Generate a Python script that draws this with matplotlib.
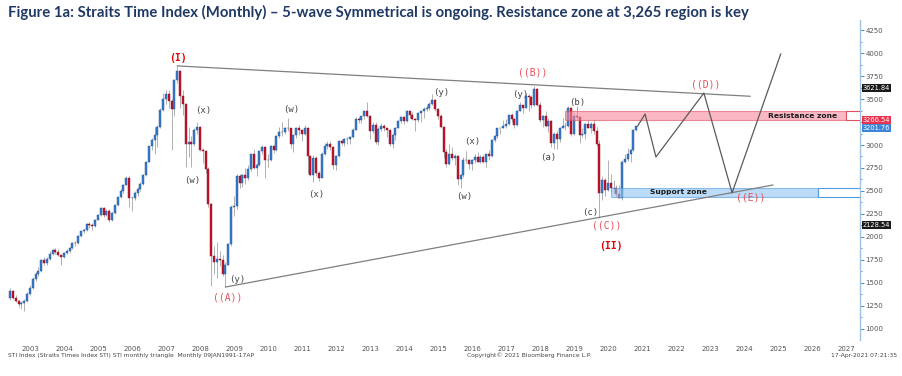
import matplotlib
matplotlib.use("Agg")
import matplotlib.pyplot as plt
from matplotlib.patches import Rectangle
from matplotlib.transforms import blended_transform_factory

# STI monthly candles, Nov 2002 .. Apr 2021 (open = previous close)
start_year, start_month = 2002, 11
first_open = 1340
close = [1410, 1341,
         1305, 1275, 1280, 1300, 1380, 1440, 1540, 1600, 1630, 1750, 1720, 1765,
         1820, 1860, 1840, 1800, 1780, 1830, 1850, 1880, 1940, 1930, 2010, 2066,
         2080, 2140, 2130, 2120, 2190, 2240, 2310, 2240, 2280, 2180, 2260, 2347,
         2430, 2500, 2570, 2640, 2420, 2420, 2480, 2520, 2580, 2670, 2820, 2986,
         3050, 3110, 3200, 3380, 3500, 3550, 3480, 3390, 3707, 3805, 3530, 3446,
         3010, 3030, 3010, 3160, 3200, 2950, 2930, 2740, 2360, 1790, 1730, 1762,
         1750, 1600, 1700, 1920, 2330, 2333, 2660, 2590, 2670, 2640, 2740, 2898,
         2750, 2780, 2930, 2980, 2840, 2840, 2990, 2950, 3100, 3140, 3140, 3190,
         3180, 3010, 3105, 3180, 3160, 3120, 3190, 2880, 2676, 2856, 2700, 2646,
         2906, 2990, 3010, 2980, 2780, 2880, 3040, 3020, 3060, 3070, 3090, 3167,
         3280, 3270, 3310, 3370, 3310, 3150, 3220, 3030, 3170, 3210, 3180, 3167,
         3010, 3110, 3190, 3260, 3300, 3260, 3370, 3330, 3280, 3270, 3350, 3365,
         3390, 3400, 3450, 3490, 3390, 3320, 3200, 2920, 2790, 2900, 2860, 2883,
         2630, 2670, 2840, 2840, 2790, 2840, 2870, 2820, 2870, 2810, 2900, 2881,
         3050, 3100, 3180, 3180, 3210, 3230, 3330, 3280, 3220, 3370, 3430, 3403,
         3530, 3520, 3430, 3610, 3430, 3270, 3320, 3210, 3260, 3020, 3120, 3069,
         3190, 3210, 3210, 3400, 3120, 3320, 3300, 3110, 3120, 3230, 3190, 3223,
         3150, 3010, 2480, 2620, 2510, 2590, 2530, 2530, 2470, 2420, 2810, 2844,
         2900, 2950, 3166, 3202]
high = [1440, 1420,
        1365, 1320, 1300, 1330, 1400, 1480, 1560, 1620, 1670, 1760, 1780, 1780,
        1850, 1870, 1880, 1870, 1810, 1840, 1870, 1890, 1950, 1960, 2020, 2070,
        2100, 2150, 2160, 2150, 2200, 2250, 2330, 2330, 2300, 2300, 2270, 2350,
        2440, 2520, 2580, 2660, 2660, 2450, 2500, 2540, 2600, 2680, 2830, 2990,
        3080, 3200, 3220, 3400, 3560, 3600, 3600, 3500, 3720, 3860, 3820, 3600,
        3460, 3200, 3100, 3180, 3250, 3210, 2970, 2950, 2760, 2370, 1900, 1950,
        1850, 1800, 1730, 1940, 2350, 2450, 2680, 2680, 2690, 2750, 2780, 2900,
        2960, 2800, 2940, 3000, 2990, 2900, 3000, 3000, 3110, 3200, 3250, 3200,
        3290, 3180, 3110, 3200, 3220, 3170, 3220, 3200, 2890, 2890, 2880, 2720,
        2920, 3020, 3040, 3040, 2990, 2890, 3050, 3070, 3080, 3090, 3100, 3180,
        3300, 3300, 3320, 3380, 3465, 3330, 3250, 3250, 3200, 3240, 3230, 3190,
        3170, 3120, 3200, 3270, 3310, 3310, 3380, 3370, 3360, 3290, 3360, 3370,
        3410, 3440, 3470, 3550, 3500, 3400, 3340, 3210, 2960, 3010, 2980, 2900,
        2890, 2680, 2870, 2930, 2850, 2850, 2900, 2920, 2890, 2890, 2900, 2950,
        3060, 3110, 3190, 3190, 3270, 3280, 3340, 3350, 3290, 3380, 3470, 3440,
        3560, 3550, 3540, 3640, 3620, 3470, 3330, 3370, 3290, 3270, 3140, 3150,
        3200, 3290, 3250, 3420, 3410, 3350, 3420, 3310, 3180, 3240, 3270, 3250,
        3280, 3200, 3050, 2660, 2640, 2840, 2680, 2620, 2560, 2560, 2840, 2900,
        2970, 2960, 3170, 3210]
low = [1320, 1330,
       1290, 1240, 1215, 1190, 1290, 1370, 1430, 1520, 1580, 1620, 1700, 1700,
       1750, 1800, 1810, 1790, 1700, 1770, 1810, 1830, 1870, 1900, 1920, 2000,
       2040, 2070, 2100, 2080, 2110, 2180, 2230, 2220, 2230, 2160, 2170, 2250,
       2340, 2420, 2480, 2560, 2330, 2280, 2400, 2450, 2500, 2570, 2660, 2810,
       2950, 2900, 2980, 3190, 3370, 3450, 3400, 2950, 3320, 3670, 3400, 3330,
       2760, 2870, 2760, 2990, 3120, 2930, 2800, 2700, 2330, 1470, 1600, 1550,
       1680, 1580, 1456, 1690, 1900, 2230, 2300, 2530, 2540, 2580, 2620, 2720,
       2740, 2660, 2770, 2900, 2640, 2760, 2830, 2910, 2940, 3080, 3100, 3120,
       3150, 2970, 2920, 3080, 3110, 3040, 3110, 2700, 2660, 2600, 2660, 2610,
       2640, 2890, 2960, 2950, 2740, 2730, 2870, 3000, 2990, 3010, 3010, 3080,
       3160, 3240, 3240, 3280, 3300, 3060, 3130, 3010, 3000, 3150, 3150, 3090,
       2990, 2970, 3050, 3180, 3240, 3230, 3250, 3290, 3270, 3150, 3250, 3250,
       3290, 3370, 3380, 3440, 3370, 3280, 3180, 2860, 2760, 2780, 2840, 2780,
       2560, 2530, 2650, 2800, 2740, 2730, 2800, 2810, 2800, 2800, 2760, 2840,
       2870, 3030, 3080, 3120, 3180, 3190, 3220, 3250, 3190, 3210, 3370, 3350,
       3400, 3370, 3400, 3420, 3420, 3250, 3200, 3200, 3140, 2980, 2960, 2960,
       3030, 3180, 3160, 3200, 3100, 3110, 3280, 3020, 3090, 3070, 3190, 3130,
       3120, 2990, 2208, 2400, 2450, 2500, 2490, 2480, 2440, 2420, 2400, 2800,
       2830, 2820, 2930, 3150]

# triangle and projected path (year, index level)
upper_t, upper_v = [2007.79, 2024.64], [3860, 3530]
lower_t, lower_v = [2009.21, 2025.31], [1456, 2565]
path_t = [2021.33, 2021.55, 2021.87, 2023.28, 2024.11, 2025.54]
path_v = [3205, 3337, 2870, 3565, 2480, 3989]

resistance = (3266.54, 3370)
support = (2440, 2535)

wave_labels = [
    ("(I)", 2007.81, 3946, "major"), ("(x)", 2008.55, 3370, "minor"),
    ("(w)", 2008.22, 2609, "minor"), ("(y)", 2009.55, 1533, "minor"),
    ("((A))", 2009.28, 1337, "inter"), ("(w)", 2011.14, 3391, "minor"),
    ("(x)", 2011.87, 2467, "minor"), ("(y)", 2015.55, 3576, "minor"),
    ("(x)", 2016.46, 3043, "minor"), ("(w)", 2016.22, 2435, "minor"),
    ("(y)", 2017.87, 3554, "minor"), ("((B))", 2018.25, 3783, "inter"),
    ("(b)", 2019.55, 3457, "minor"), ("(a)", 2018.69, 2859, "minor"),
    ("(c)", 2019.93, 2261, "minor"), ("((C))", 2020.43, 2120, "inter"),
    ("(II)", 2020.55, 1902, "major"), ("((D))", 2023.34, 3663, "inter"),
    ("((E))", 2024.67, 2424, "inter"),
]

# right-edge price tags: (label, level where the tag sits, colour)
price_tags = [("3621.84", 3621.84, "#1a1a1a"), ("3201.76", 3186, "#3d85d8"),
              ("3266.54", 3266.54, "#e8344e"), ("2128.54", 2128.54, "#1a1a1a")]

y_ticks = list(range(1000, 4251, 250))
years = list(range(2003, 2028))

fig = plt.figure(figsize=(9.03, 3.76), dpi=100)
ax = fig.add_axes([0, 36 / 376, 860 / 903, 320 / 376])
ax.set_xlim(2002.5776, 2027.872)
ax.set_ylim(880, 4359)

# candles
opens = [first_open] + close[:-1]
t = []
for i in range(len(close)):
    m = start_month - 1 + i
    t.append(start_year + m // 12 + (m % 12 + 0.5) / 12)
ax.vlines(t, low, high, color="#b0b0b0", lw=0.7, zorder=2)
for ti, o, c in zip(t, opens, close):
    up = c >= o
    ax.bar(ti, abs(c - o), bottom=min(o, c), width=0.058,
           color="#3b7dd0" if up else "#c8142f",
           edgecolor="#1e4f8c" if up else "#7d0c1e", lw=0.3, zorder=3)

# zones
def zone(lo, hi, x0, x1, fc, ec, text, tx):
    ax.add_patch(Rectangle((x0, lo), x1 - x0, hi - lo, facecolor=fc,
                           edgecolor=ec, lw=0.8, alpha=0.6, zorder=4))
    ax.add_patch(Rectangle((x1, lo), 2027.87 - x1, hi - lo, facecolor="white",
                           edgecolor=ec, lw=0.8, zorder=4))
    ax.text(tx, (lo + hi) / 2, text, fontsize=5.4, fontweight="bold",
            color="#1a1a1a", ha="center", va="center", zorder=6)

zone(*resistance, 2019.20, 2027.46, "#f58a9b", "#e0505f", "Resistance zone", 2026.19)
zone(*support, 2020.55, 2026.64, "#8ec4f2", "#4f9be0", "Support zone", 2022.52)

ax.plot(upper_t, upper_v, color="#7f7f7f", lw=0.9, zorder=5)
ax.plot(lower_t, lower_v, color="#7f7f7f", lw=0.9, zorder=5)
ax.plot(path_t, path_v, color="#5a5a5a", lw=0.9, zorder=5)

styles = {"minor": dict(color="#444444", fontsize=6.5),
          "inter": dict(color="#e8505b", fontsize=7),
          "major": dict(color="#e00000", fontsize=7, fontweight="bold")}
for txt, x, y, kind in wave_labels:
    ax.text(x, y, txt, ha="center", va="center", family="DejaVu Sans Mono",
            zorder=6, **styles[kind])

# right axis (3250 label sits under the price tags)
for s in ["left", "top", "bottom"]:
    ax.spines[s].set_visible(False)
ax.spines["right"].set_color("#9cc3e6")
ax.spines["right"].set_linewidth(1.0)
ax.yaxis.tick_right()
ax.set_yticks(y_ticks)
ax.set_yticklabels(["" if v == 3250 else str(v) for v in y_ticks])
ax.set_yticks(range(1125, 4251, 250), minor=True)
ax.tick_params(axis="y", which="major", colors="#3f8fd8", labelcolor="#555555",
               labelsize=5, length=3, width=0.7, pad=1)
ax.tick_params(axis="y", which="minor", colors="#3f8fd8", length=1.5, width=0.6)
ax.set_xticks([y + 0.46 for y in years])
ax.set_xticklabels([str(y) for y in years])
ax.tick_params(axis="x", length=0, labelsize=5, labelcolor="#555555", pad=4)

tr = blended_transform_factory(ax.transAxes, ax.transData)
for label, val, col in price_tags:
    ax.text(1.003, val, label, transform=tr, fontsize=4.8, color="white",
            ha="left", va="center", clip_on=False, zorder=7,
            bbox=dict(boxstyle="square,pad=0.15", fc=col, ec="none"))

fig.text(0.009, 1 - 12 / 376, "Figure 1a: Straits Time Index (Monthly) \u2013 5-wave Symmetrical "
         "is ongoing. Resistance zone at 3,265 region is key", fontsize=10.7,
         family="Lato", fontweight="bold", color="#1f3864", va="center")
fig.text(0.009, 1 - 355 / 376, "STI Index (Straits Times Index STI) STI monthly triangle  "
         "Monthly 09JAN1991-17AP", fontsize=4.3, color="#444444", va="center")
fig.text(529 / 903, 1 - 355 / 376, "Copyright\u00a9 2021 Bloomberg Finance L.P.",
         fontsize=4.3, color="#444444", va="center", ha="center")
fig.text(0.993, 1 - 355 / 376, "17-Apr-2021 07:21:35", fontsize=4.3,
         color="#444444", va="center", ha="right")

fig.savefig("out.png", dpi=100)
